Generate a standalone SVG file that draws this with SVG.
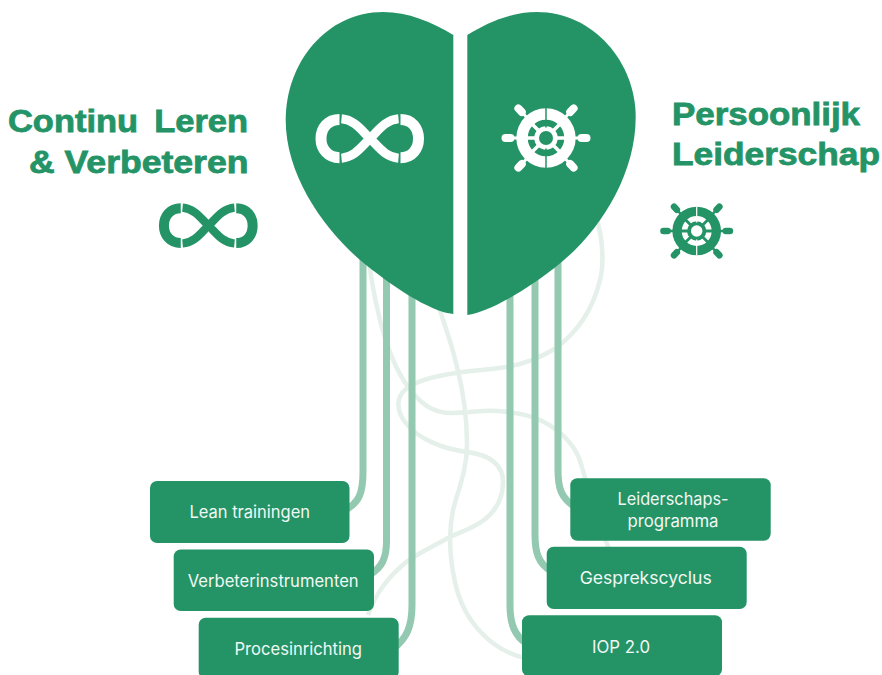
<svg xmlns="http://www.w3.org/2000/svg" width="882" height="675" viewBox="0 0 882 675">
<style>
.heart{fill:#249467}
.box{fill:#249467}
.lbl{font-family:"Inter","Liberation Sans",sans-serif;font-size:17px;fill:#f1f8f4}
.hd{font-family:"Liberation Sans",Arial,sans-serif;font-weight:700;font-size:31px;fill:#249467;stroke:#249467;stroke-width:.8}
.soft{fill:none;stroke:#e5f0ea;stroke-width:4.500}
.strong{fill:none;stroke:#93c9b0;stroke-width:7}
</style>
<defs>
<g id="inf" fill="none">
<path stroke-width="11" d="M339.500 119.500C328 119.500 321 128 321 138.700C321 149 328 157.700 339.500 157.700"/>
<path stroke-width="9" d="M341.500 118.800C355 120 362 131 370 138.500C378 146 385 157 398.500 158.200"/>
<path stroke-width="9" d="M341.500 158.200C355 157 362 146 370 138.500C378 131 385 120 398.500 118.800"/>
<path stroke-width="11" d="M400.500 119.500C412 119.500 418.500 128 418.500 138.700C418.500 149 412 157.700 400.500 157.700"/>
</g>
<g id="wheel">
<g style="stroke:var(--fg)" stroke-linecap="round" fill="none">
<g id="sp"><path d="M-29 0H-36" stroke-width="3"/><path d="M-35.500 0H-40.500" stroke-width="8"/></g>
<use href="#sp" transform="rotate(180)"/>
<use href="#sp" transform="rotate(47)"/>
<use href="#sp" transform="rotate(133)"/>
<use href="#sp" transform="rotate(227)"/>
<use href="#sp" transform="rotate(313)"/>
</g>
<circle r="29.700" style="fill:var(--fg)"/>
<circle r="15" fill="none" style="stroke:var(--bg)" stroke-width="6.500"/>
<path d="M-22 0H22M-15.500 -15.500L15.500 15.500M15.500 -15.500L-15.500 15.500" fill="none" style="stroke:var(--fg)" stroke-width="3.500"/>
<circle r="10.500" style="fill:var(--fg)"/>
<circle r="7" style="fill:var(--bg)"/>
<path d="M0 -30V-10.500M0 10.500V30" fill="none" style="stroke:var(--bg)" stroke-width="1.500"/>
</g>
</defs>
<g id="connectors">
<path class="soft" d="M597 220C603 240 604 265 600 280C594 305 580 330 556 348C540 358 525 364 506 367C490 370 475 370 456 373C435 376 416 381 406 389C396 397 396 410 405 422C418 440 445 449 467 452C490 455 503 465 503 482C503 497 497 510 484 520C472 529 460 532 450 537C430 548 415 555 405 563C390 576 377 590 368 615"/>
<path class="soft" d="M369 262C372 285 378 315 385 338C392 360 402 380 412 392C425 408 437 413 452 413C470 413 480 410 497 411C515 412 530 415 542 421C558 429 572 442 579 458C585 475 597 525 610 550"/>
<path class="soft" d="M438 305C445 325 452 345 457 367C463 390 467 420 467 445C467 470 458 490 453 510C449 530 449 555 455 582C463 620 490 650 525 658"/>
<path class="strong" d="M363 250V472C363 493 359 503 345 510"/>
<path class="strong" d="M386.500 250V538C387 558 382 568 369 575"/>
<path class="strong" d="M412 280V605C412 626 407 638 394 648"/>
<path class="strong" d="M510 280V605C510 625 515 636 527 644"/>
<path class="strong" d="M535 260V535C535 552 538 563 551 571"/>
<path class="strong" d="M558 250V470C558 488 561 498 575 507"/>
</g>
<g id="heart-left">
<path class="heart" d="M453.300 35C432 22 408 12 383 12C327 12 285.700 62 285.700 120C285.700 175 323 228 360 260C390 285 430 312 453.300 314Z"/>
<use href="#inf" stroke="#fff"/>
</g>
<g id="heart-right">
<path class="heart" d="M467.300 35C488 22 512 12 537 12C593 12 635.700 62 635.700 117C635.700 175 600 230 561.700 262C530 288 490 312 467.300 315Z"/>
<use href="#wheel" transform="translate(546 138)" style="--fg:#fff;--bg:#249467"/>
</g>
<g id="title-left">
<text class="hd" x="8" y="132" textLength="240" lengthAdjust="spacingAndGlyphs" word-spacing="6">Continu Leren</text>
<text class="hd" x="29" y="173" textLength="219.500" lengthAdjust="spacingAndGlyphs">&amp; Verbeteren</text>
<use href="#inf" stroke="#249467" transform="translate(208.500 225.800) scale(.91) translate(-370 -138.700)"/>
</g>
<g id="title-right">
<text class="hd" x="672" y="124.500" textLength="188" lengthAdjust="spacingAndGlyphs">Persoonlijk</text>
<text class="hd" x="672" y="165" textLength="208" lengthAdjust="spacingAndGlyphs">Leiderschap</text>
<use href="#wheel" transform="translate(696.700 231) scale(.82)" style="--fg:#249467;--bg:#fff"/>
</g>
<g id="node-lean"><rect class="box" x="150" y="481" width="199.500" height="62" rx="7"/><text class="lbl" x="189.500" y="518" textLength="120.500" lengthAdjust="spacingAndGlyphs">Lean trainingen</text></g>
<g id="node-verbeter"><rect class="box" x="173.700" y="549.500" width="200.300" height="61.500" rx="7"/><text class="lbl" x="187.700" y="587" textLength="171" lengthAdjust="spacingAndGlyphs">Verbeterinstrumenten</text></g>
<g id="node-proces"><rect class="box" x="198.700" y="617.700" width="200" height="61" rx="7"/><text class="lbl" x="234.500" y="655" textLength="127.500" lengthAdjust="spacingAndGlyphs">Procesinrichting</text></g>
<g id="node-leiderschap"><rect class="box" x="570.300" y="478.300" width="200.400" height="62.400" rx="7"/><text class="lbl" x="617.500" y="505" textLength="111" lengthAdjust="spacingAndGlyphs">Leiderschaps-</text><text class="lbl" x="627.500" y="527" textLength="91" lengthAdjust="spacingAndGlyphs">programma</text></g>
<g id="node-gespreks"><rect class="box" x="546.700" y="546.700" width="200" height="62.300" rx="7"/><text class="lbl" x="579.700" y="584" textLength="132" lengthAdjust="spacingAndGlyphs">Gesprekscyclus</text></g>
<g id="node-iop"><rect class="box" x="522" y="615.300" width="200" height="61" rx="7"/><text class="lbl" x="592" y="652.700" textLength="58" lengthAdjust="spacingAndGlyphs">IOP 2.0</text></g>
</svg>
